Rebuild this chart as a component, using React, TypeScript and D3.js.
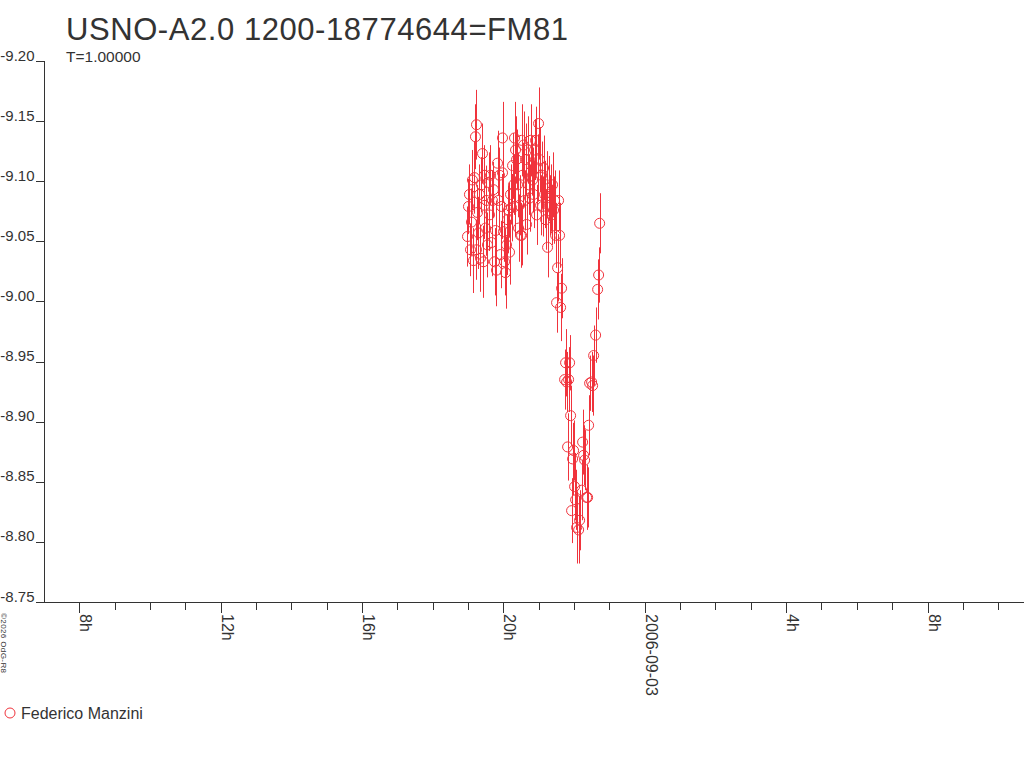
import * as d3 from "d3";

// observation times, UT hours after 2006-09-02 00:00
const obsHours = [
  18.983, 19.011, 19.039, 19.068, 19.096, 19.124, 19.153, 19.181, 19.209, 19.238,
  19.238, 19.266, 19.294, 19.323, 19.351, 19.379, 19.408, 19.436, 19.464, 19.464,
  19.493, 19.521, 19.549, 19.578, 19.606, 19.634, 19.663, 19.691, 19.719, 19.748,
  19.776, 19.804, 19.833, 19.861, 19.889, 19.918, 19.946, 19.974, 19.974, 20.003,
  20.031, 20.059, 20.088, 20.116, 20.144, 20.173, 20.201, 20.229, 20.258, 20.286,
  20.314, 20.314, 20.343, 20.371, 20.399, 20.428, 20.456, 20.484, 20.513, 20.513,
  20.541, 20.569, 20.598, 20.626, 20.654, 20.683, 20.711, 20.739, 20.768, 20.796,
  20.824, 20.853, 20.881, 20.909, 20.938, 20.966, 20.994, 21.023, 21.051, 21.079,
  21.108, 21.136, 21.164, 21.193, 21.221, 21.249, 21.278, 21.306, 21.334, 21.363,
  21.391, 21.419, 21.448, 21.476, 21.504, 21.533, 21.561, 21.589, 21.618, 21.646,
  21.731, 21.759, 21.788, 21.816, 21.844, 21.873, 21.901, 21.929, 21.958, 21.986,
  22.014, 22.043, 22.071, 22.128, 22.156, 22.213, 22.241, 22.269, 22.298, 22.354,
  22.383, 22.411, 22.439, 22.496, 22.524, 22.553, 22.609, 22.666, 22.694, 22.723,
];

const obsMag = [
  -9.054, -9.079, -9.089, -9.043, -9.066, -9.101, -9.034, -9.103, -9.137, -9.147,
  -9.043, -9.074, -9.057, -9.089, -9.036, -9.097, -9.123, -9.033, -9.105, -9.080,
  -9.061, -9.084, -9.047, -9.099, -9.072, -9.105, -9.049, -9.084, -9.093, -9.033,
  -9.059, -9.026, -9.115, -9.084, -9.105, -9.039, -9.079, -9.136, -9.107, -9.058,
  -9.033, -9.024, -9.047, -9.068, -9.076, -9.041, -9.089, -9.078, -9.113, -9.097,
  -9.136, -9.079, -9.126, -9.118, -9.097, -9.061, -9.080, -9.055, -9.134, -9.055,
  -9.105, -9.130, -9.084, -9.118, -9.064, -9.126, -9.097, -9.086, -9.134, -9.113,
  -9.101, -9.089, -9.126, -9.134, -9.072, -9.111, -9.148, -9.118, -9.080, -9.105,
  -9.079, -9.111, -9.089, -9.068, -9.097, -9.045, -9.094, -9.080, -9.086, -9.072,
  -9.097, -9.076, -9.084, -9.055, -8.999, -9.028, -9.084, -9.055, -8.995, -9.011,
  -8.935, -8.949, -8.933, -8.879, -8.935, -8.949, -8.905, -8.826, -8.869, -8.876,
  -8.846, -8.835, -8.812, -8.810, -8.818, -8.843, -8.883, -8.872, -8.868, -8.837,
  -8.837, -8.897, -8.932, -8.933, -8.930, -8.955, -8.972, -9.010, -9.022, -9.065,
];

const obsErr = [
  0.025, 0.023, 0.025, 0.022, 0.028, 0.025, 0.027, 0.030, 0.027, 0.029,
  0.025, 0.023, 0.030, 0.025, 0.028, 0.023, 0.025, 0.030, 0.025, 0.028,
  0.023, 0.029, 0.027, 0.025, 0.030, 0.025, 0.028, 0.025, 0.023, 0.028,
  0.025, 0.030, 0.027, 0.025, 0.023, 0.028, 0.027, 0.030, 0.025, 0.025,
  0.028, 0.030, 0.025, 0.028, 0.023, 0.027, 0.025, 0.028, 0.027, 0.025,
  0.030, 0.025, 0.028, 0.025, 0.027, 0.028, 0.025, 0.027, 0.030, 0.025,
  0.027, 0.028, 0.025, 0.030, 0.025, 0.028, 0.025, 0.028, 0.030, 0.025,
  0.027, 0.028, 0.025, 0.028, 0.025, 0.028, 0.030, 0.027, 0.025, 0.028,
  0.025, 0.027, 0.028, 0.025, 0.028, 0.025, 0.027, 0.025, 0.028, 0.025,
  0.027, 0.028, 0.025, 0.027, 0.025, 0.028, 0.025, 0.027, 0.028, 0.025,
  0.025, 0.028, 0.025, 0.028, 0.027, 0.023, 0.025, 0.027, 0.030, 0.025,
  0.028, 0.025, 0.030, 0.028, 0.025, 0.025, 0.027, 0.025, 0.025, 0.027,
  0.025, 0.025, 0.023, 0.025, 0.025, 0.025, 0.023, 0.025, 0.023, 0.025,
];

const magTicks = [-9.2, -9.15, -9.1, -9.05, -9.0, -8.95, -8.9, -8.85, -8.8, -8.75];

const title = "USNO-A2.0 1200-18774644=FM81";
const subtitle = "T=1.00000";
const observer = "Federico Manzini";
const credit = "\u00a92026 OdG-R8";

const RED = "#f0333c";
const INK = "#333";
const FONT = "'Liberation Sans', Arial, Helvetica, sans-serif";

const day0 = Date.UTC(2006, 8, 2);
const toDate = (h: number) => new Date(day0 + h * 3600e3);

const App = () => {
  const width = 1024;
  const height = 768;
  const axisLeft = 44;
  const axisBottom = 602;

  const x = d3
    .scaleUtc()
    .domain([toDate(7), toDate(35)])
    .range([axisLeft, axisLeft + 28 * 35.34]);

  const y = d3.scaleLinear().domain([-9.2, -8.75]).range([61, axisBottom]);

  const hourTicks = d3.utcHour
    .range(toDate(8), toDate(35))
    .filter((d) => x(d) <= width);

  const label = (d: Date) => {
    const h = d.getUTCHours();
    if (h === 0) return d3.utcFormat("%Y-%m-%d")(d);
    return `${h}h`;
  };

  const pts = obsHours.map((h, i) => ({
    t: toDate(h),
    m: obsMag[i],
    e: obsErr[i],
  }));

  return (
    <svg
      width={width}
      height={height}
      style={{ position: "absolute", left: 0, top: 0, background: "#fff" }}
      fontFamily={FONT}
    >
      <text x={66} y={40} fontSize={31} fill={INK} textLength={502} lengthAdjust="spacing">
        {title}
      </text>
      <text x={66} y={62} fontSize={15.5} fill={INK}>
        {subtitle}
      </text>

      {/* y axis */}
      <line x1={axisLeft + 0.5} x2={axisLeft + 0.5} y1={y(-9.2)} y2={axisBottom} stroke={INK} />
      {magTicks.map((v) => (
        <g key={v}>
          <line x1={36} x2={axisLeft + 0.5} y1={Math.round(y(v)) + 0.5} y2={Math.round(y(v)) + 0.5} stroke={INK} />
          <text x={34.5} y={y(v) - 0.5} fontSize={15} fill={INK} textAnchor="end">
            {v.toFixed(2)}
          </text>
        </g>
      ))}

      {/* x axis */}
      <line x1={36} x2={width} y1={axisBottom + 0.5} y2={axisBottom + 0.5} stroke={INK} />
      {hourTicks.map((d) => {
        const major = d.getUTCHours() % 4 === 0;
        const px = Math.round(x(d)) + 0.5;
        return (
          <g key={+d}>
            <line x1={px} x2={px} y1={axisBottom} y2={axisBottom + (major ? 11 : 8)} stroke={INK} />
            {major && (
              <text
                transform={`translate(${px + 0.5},614) rotate(90)`}
                fontSize={16}
                fill={INK}
              >
                {label(d)}
              </text>
            )}
          </g>
        );
      })}

      {/* observations */}
      <g stroke={RED} fill="none" strokeWidth={1}>
        {pts.map((p, i) => (
          <line
            key={`e${i}`}
            x1={Math.round(x(p.t)) + 0.5}
            x2={Math.round(x(p.t)) + 0.5}
            y1={y(p.m - p.e)}
            y2={y(p.m + p.e)}
          />
        ))}
        {pts.map((p, i) => (
          <circle key={`c${i}`} cx={x(p.t)} cy={y(p.m)} r={5} />
        ))}
      </g>

      <text transform="translate(1,613) rotate(90)" fontSize={8} fill={INK} textLength={60}>
        {credit}
      </text>

      <circle cx={10} cy={713} r={5} stroke={RED} fill="none" />
      <text x={21} y={719} fontSize={16} fill={INK}>
        {observer}
      </text>
    </svg>
  );
};

export default App;
